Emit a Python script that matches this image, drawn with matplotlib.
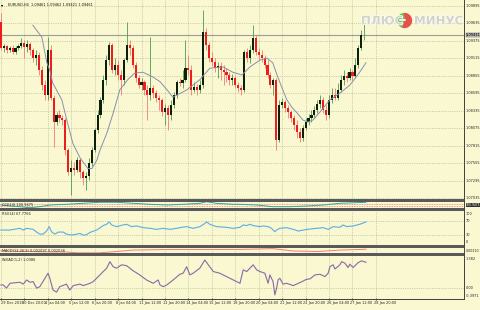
import matplotlib
matplotlib.use("Agg")
import matplotlib.pyplot as plt
import matplotlib.patheffects as pe
from matplotlib.patches import Rectangle, Wedge
import numpy as np

# EURUSD H4 candles (price values)
first_open = 1.0966
closes = [1.0927, 1.0930, 1.0924, 1.0927, 1.0921, 1.0927, 1.0930, 1.0935, 1.0929, 1.0933,
          1.0924, 1.0912, 1.0917, 1.0894, 1.0872, 1.0857, 1.0924, 1.0853, 1.0817, 1.0828,
          1.0823, 1.0820, 1.0776, 1.0743, 1.0749, 1.0746, 1.0761, 1.0743, 1.0734, 1.0737,
          1.0756, 1.0776, 1.0805, 1.0828, 1.0850, 1.0880, 1.0909, 1.0932, 1.0894, 1.0902,
          1.0887, 1.0880, 1.0909, 1.0932, 1.0927, 1.0902, 1.0882, 1.0872, 1.0877, 1.0865,
          1.0857, 1.0868, 1.0860, 1.0853, 1.0850, 1.0832, 1.0838, 1.0828, 1.0842, 1.0857,
          1.0877, 1.0875, 1.0880, 1.0897, 1.0894, 1.0865, 1.0869, 1.0865, 1.0872, 1.0951,
          1.0932, 1.0912, 1.0906, 1.0897, 1.0900, 1.0894, 1.0891, 1.0887, 1.0880, 1.0882,
          1.0872, 1.0868, 1.0865, 1.0921, 1.0912, 1.0924, 1.0942, 1.0921, 1.0917, 1.0912,
          1.0902, 1.0887, 1.0872, 1.0880, 1.0790, 1.0842, 1.0847, 1.0838, 1.0832, 1.0823,
          1.0813, 1.0802, 1.0793, 1.0808, 1.0817, 1.0823, 1.0828, 1.0835, 1.0844, 1.0850,
          1.0835, 1.0828, 1.0850, 1.0857, 1.0853, 1.0865, 1.0880, 1.0885, 1.0882, 1.0891,
          1.0885, 1.0902, 1.0927, 1.0946, 1.09461]
highs = [1.0979, 1.0933, 1.0932, 1.0930, 1.0932, 1.0930, 1.0933, 1.0942, 1.0939, 1.0939,
         1.0936, 1.0927, 1.0924, 1.0921, 1.0900, 1.0880, 1.0943, 1.0932, 1.0857, 1.0832,
         1.0835, 1.0828, 1.0823, 1.0778, 1.0761, 1.0758, 1.0765, 1.0764, 1.0746, 1.0743,
         1.0764, 1.0780, 1.0808, 1.0835, 1.0854, 1.0887, 1.0917, 1.0936, 1.0935, 1.0912,
         1.0909, 1.0894, 1.0912, 1.0966, 1.0939, 1.0932, 1.0906, 1.0887, 1.0882, 1.0880,
         1.0872, 1.0943, 1.0872, 1.0865, 1.0857, 1.0853, 1.0844, 1.0842, 1.0850, 1.0862,
         1.0880, 1.0882, 1.0894, 1.0939, 1.0917, 1.0902, 1.0877, 1.0874, 1.0880, 1.0984,
         1.0957, 1.0936, 1.0921, 1.0912, 1.0906, 1.0906, 1.0902, 1.0897, 1.0891, 1.0888,
         1.0887, 1.0877, 1.0872, 1.0924, 1.0927, 1.0932, 1.0961, 1.0946, 1.0927, 1.0924,
         1.0917, 1.0909, 1.0891, 1.0882, 1.0882, 1.0850, 1.0853, 1.0850, 1.0842, 1.0835,
         1.0828, 1.0820, 1.0808, 1.0813, 1.0823, 1.0829, 1.0835, 1.0841, 1.0850, 1.0857,
         1.0854, 1.0842, 1.0857, 1.0868, 1.0868, 1.0875, 1.0887, 1.0894, 1.0891, 1.0897,
         1.0894, 1.0912, 1.0932, 1.0954, 1.0966]
lows = [1.0924, 1.0921, 1.0920, 1.0921, 1.0918, 1.0918, 1.0924, 1.0927, 1.0912, 1.0921,
        1.0917, 1.0906, 1.0902, 1.0887, 1.0865, 1.0850, 1.0850, 1.0850, 1.0780, 1.0813,
        1.0817, 1.0813, 1.0768, 1.0738, 1.0709, 1.0738, 1.0743, 1.0734, 1.0723, 1.0716,
        1.0731, 1.0752, 1.0773, 1.0801, 1.0823, 1.0845, 1.0872, 1.0902, 1.0890, 1.0887,
        1.0880, 1.0857, 1.0872, 1.0906, 1.0917, 1.0897, 1.0877, 1.0868, 1.0865, 1.0857,
        1.0820, 1.0850, 1.0853, 1.0847, 1.0835, 1.0826, 1.0813, 1.0805, 1.0820, 1.0838,
        1.0853, 1.0871, 1.0868, 1.0877, 1.0887, 1.0857, 1.0862, 1.0857, 1.0860, 1.0868,
        1.0924, 1.0906, 1.0900, 1.0891, 1.0882, 1.0880, 1.0872, 1.0877, 1.0872, 1.0872,
        1.0868, 1.0862, 1.0857, 1.0862, 1.0906, 1.0905, 1.0920, 1.0917, 1.0909, 1.0906,
        1.0897, 1.0882, 1.0868, 1.0857, 1.0776, 1.0787, 1.0838, 1.0832, 1.0823, 1.0817,
        1.0805, 1.0793, 1.0787, 1.0789, 1.0805, 1.0813, 1.0817, 1.0823, 1.0831, 1.0838,
        1.0831, 1.0820, 1.0823, 1.0845, 1.0850, 1.0850, 1.0862, 1.0872, 1.0877, 1.0880,
        1.0880, 1.0882, 1.0897, 1.0924, 1.0939]

# moving average (bar position, price)
ma_bar = [10.9, 14.0, 15.7, 16.7, 17.7, 20.8, 22.5, 24.6, 27.0, 29.7, 31.1, 32.8, 33.8, 36.2,
          38.3, 40.6, 43.3, 45.7, 48.5, 51.9, 54.3, 56.7, 58.7, 63.5, 67.9, 71.3, 75.8, 79.2,
          82.3, 85.0, 88.4, 90.8, 92.8, 94.5, 96.2, 97.6, 99.3, 101.0, 103.1, 104.8, 106.5,
          108.9, 112.3, 115.7, 119.1, 121.8, 124.6]
ma_val = [1.0961, 1.0943, 1.0905, 1.0894, 1.0875, 1.0850, 1.0820, 1.0785, 1.0764, 1.0748,
          1.0748, 1.0761, 1.0775, 1.0801, 1.0830, 1.0865, 1.0880, 1.0890, 1.0891, 1.0884,
          1.0877, 1.0865, 1.0854, 1.0865, 1.0880, 1.0897, 1.0899, 1.0891, 1.0887, 1.0899,
          1.0909, 1.0912, 1.0905, 1.0884, 1.0865, 1.0850, 1.0839, 1.0831, 1.0820, 1.0817,
          1.0820, 1.0832, 1.0850, 1.0860, 1.0872, 1.0887, 1.0905]

# small oscillator in first sub-window
cci_bar = [0, 3.1, 6.5, 9.9, 13.3, 16.7, 22.4, 28.1, 33.8, 39.5, 45.2, 50.9, 56.6, 62.2, 67.9,
           70.2, 73.6, 79.3, 81.6, 87.3, 92.9, 98.6, 104.3, 110.0, 115.7, 124.6]
cci_val = [0, -100, -170, -270, -170, 0, 70, 170, 270, 270, 170, 70, 0, 70, 170,
           330, 170, 70, 70, 0, -170, -170, -100, 0, 170, 270]

# RSI(14)
rsi_bar = [0, 3, 6.5, 7.6, 8.8, 11, 12.2, 13.3, 14.4, 15.6, 16.5, 17.3, 18.4, 19.6, 21.3, 22.4,
           23.5, 24.7, 27, 28.1, 29.2, 30.4, 32.7, 34.9, 36.1, 37, 37.8, 39.5, 41.7, 42.9, 44.6,
           46.3, 48.6, 50.9, 53.1, 55.4, 57.7, 60, 61.7, 63.4, 65.6, 67.9, 69.6, 70.2, 71.3,
           73.6, 77, 79.3, 81.6, 82.7, 83.9, 85, 86.1, 88.4, 89.5, 91.2, 92.4, 92.9, 93.5, 94.1,
           95.2, 97.5, 99.8, 101.5, 103.2, 105.5, 107.7, 110, 111.7, 113.4, 115.7, 116.8, 118,
           120.2, 122.5, 124.6]
rsi_val = [44, 44, 49, 44, 49, 46, 38, 32, 32, 41, 54, 39, 32, 38, 38, 32,
           30, 30, 34, 29, 30, 37, 44, 57, 61, 68, 59, 54, 59, 61, 54,
           56, 51, 49, 46, 49, 46, 49, 52, 54, 49, 54, 63, 68, 61,
           54, 52, 49, 52, 59, 57, 61, 57, 54, 56, 54, 49, 44, 39, 44,
           49, 51, 46, 41, 44, 47, 49, 51, 46, 54, 52, 59, 54,
           56, 61, 67.78]

# MACD main line
macd_bar = [0, 14.3, 22.5, 26, 33.8, 39.6, 45, 56.7, 81.6, 92.8, 99.7, 107.8, 115.7, 124.6]
macd_val = [-0.0005, -0.0015, -0.0018, -0.0028, -0.0028, -0.0012, 0.0005, 0.0012, 0.0013,
            0.0022, -0.0005, -0.0012, 0.0005, 0.0015]

# bottom oscillator
osc_bar = [0, 0.8, 1.9, 3.1, 6.5, 7.6, 8.8, 9.9, 11, 12.2, 13.3, 16.1, 16.7, 17.8, 19, 20.1,
           22.4, 23.5, 24.7, 27, 28.1, 30.4, 31.5, 33.8, 36.1, 37.2, 38.3, 39.5, 41.2, 42.9,
           44, 45.2, 47.4, 49.7, 52, 53.7, 54.3, 55.4, 56.6, 58.8, 61.1, 62.2, 63.4, 64.5,
           65.6, 67.9, 69.6, 70.8, 72.5, 74.7, 77, 79.3, 81.6, 82.7, 83.9, 85, 86.1, 87.3,
           88.4, 90.1, 91.2, 91.8, 92.9, 93.5, 94.1, 94.6, 95.2, 96.3, 97.5, 99.8, 100.9,
           103.2, 104.3, 105.5, 107.2, 108.9, 110.6, 111.7, 112.3, 113.4, 114, 115.7, 116.3,
           117.4, 118.5, 119.1, 120.2, 121.9, 123.1, 124.6]
osc_val = [0.14, 0.14, -0.01, 0.22, 0.27, 0.18, 0.38, 0.27, 0.30, -0.01, 0.06, 0.70, 0.46,
           -0.10, -0.20, 0.06, 0.18, -0.10, 0.11, 0.18, 0.11, 0.22, 0.30, 0.62, 0.94, 1.25,
           1.01, 0.94, 1.10, 1.06, 0.94, 0.81, 0.62, 0.38, 0.22, 0.38, 0.14, 0.06, 0.14, 0.38,
           0.65, 0.70, 1.01, 0.62, 0.70, 0.94, 1.33, 1.10, 0.78, 0.70, 0.54, 0.38, 0.22, 0.86,
           0.78, 0.94, 1.10, 0.86, 0.78, 0.70, 0.22, 0.62, 0.30, -0.33, -0.01, 0.38, 0.46,
           0.18, 0.22, 0.11, 0.18, 0.33, 0.41, 0.43, 0.62, 0.65, 0.54, 0.70, 1.01, 1.10, 0.90,
           1.10, 1.25, 1.18, 0.97, 1.13, 0.97, 1.20, 1.29, 1.22]

price_ticks = [1.09895, 1.09635, 1.09375, 1.09115, 1.08855, 1.08595, 1.08335, 1.08075,
               1.07815, 1.07555, 1.07295, 1.07035]
time_labels = ["29 Dec 2015", "30 Dec 20:00", "4 Jan 04:00", "5 Jan 12:00", "6 Jan 20:00",
               "8 Jan 04:00", "11 Jan 12:00", "12 Jan 20:00", "14 Jan 04:00", "15 Jan 12:00",
               "18 Jan 20:00", "20 Jan 04:00", "21 Jan 12:00", "22 Jan 20:00", "26 Jan 04:00",
               "27 Jan 12:00", "28 Jan 20:00"]
last_price = 1.09461

BG = "#f9f8d0"
GRID = "#a9a994"
SEP = "#5a5a5a"
NARROW = ["Liberation Sans Narrow", "DejaVu Sans"]
FS = 2.5
W, H = 480, 310
PLOT_R = 464
BAR_PX = 2.93

fig = plt.figure(figsize=(4.8, 3.1), dpi=100, facecolor=BG)


def px_axes(y0, y1):
    ax = fig.add_axes([0, 1 - y1 / H, PLOT_R / W, (y1 - y0) / H])
    ax.set_facecolor(BG)
    for s in ax.spines.values():
        s.set_visible(False)
    ax.set_xlim(-0.3, -0.3 + PLOT_R / BAR_PX)
    ax.set_xticks(np.arange(0, 17) * 8)
    ax.tick_params(length=0, labelbottom=False, labelleft=False)
    ax.grid(True, color=GRID, ls=(0, (1, 1.6)), lw=0.5)
    return ax


def right_label(ax, y, txt, size=FS, **kw):
    kw.setdefault("color", "#222222")
    ax.text(1.004, y, txt, transform=ax.get_yaxis_transform(), fontsize=size,
            family=NARROW, va="center", ha="left", clip_on=False, **kw)


def left_label(ax, y, txt):
    ax.text(0.005, y, txt, transform=ax.transAxes, fontsize=FS, family=NARROW,
            va="center", color="#222222")


# --- main price window ---
ax = px_axes(0, 199)
ax.set_ylim(1.07027, 1.09984)
ax.set_yticks(price_ticks)
o = np.array([first_open] + closes[:-1])
c = np.array(closes)
hi = np.array(highs)
lo = np.array(lows)
x = np.arange(len(c))
bull = c >= o
wick_col = np.where(bull, "#4f9a4f", "#f07a7a")
body_col = np.where(bull, "#0b1f0b", "#ee1c1c")
ax.vlines(x, lo, hi, colors=wick_col, lw=0.6, zorder=3)
body_h = np.maximum(np.abs(c - o), 0.00006)
ax.bar(x, body_h, bottom=np.minimum(o, c), width=0.72, color=body_col, lw=0, zorder=4)
ax.plot(ma_bar, ma_val, color="#8a8fb0", lw=0.7, zorder=5)
ax.axhline(last_price, color="#9c9c9c", lw=0.8, zorder=2)
for p in price_ticks:
    right_label(ax, p, f"{p:.5f}")
right_label(ax, last_price, f"{last_price:.5f}", size=2.3, fontweight="bold",
            bbox=dict(boxstyle="square,pad=0.05", fc="#d0d0d0", ec="#404040", lw=0.3),
            zorder=6)
ax.text(0.003, 0.985, "\u25be", transform=ax.transAxes, fontsize=3.2, va="top")
ax.text(0.017, 0.985, "EURUSD,H4  1.09461 1.09462 1.09421 1.09461",
        transform=ax.transAxes, fontsize=FS, family=NARROW, va="top", color="#111111")

# watermark
wm = dict(fontsize=8.5, fontweight="bold", color="#d3d3cc", va="center",
          family=["Liberation Sans Narrow", "DejaVu Sans"],
          path_effects=[pe.withStroke(linewidth=1.0, foreground="white")], zorder=7)
fig.text(361 / W, 1 - 21 / H, "ПЛЮС", ha="left", **wm)
fig.text(414 / W, 1 - 21 / H, "МИНУС", ha="left", **wm)
lax = fig.add_axes([396 / W, 1 - 29 / H, 17 / W, 17 / H])
lax.set_xlim(-1, 1)
lax.set_ylim(-1, 1)
lax.set_aspect("equal")
lax.axis("off")
lax.add_patch(Wedge((0, 0), 0.9, 95, 250, fc="#6cbf4a", ec="none"))
lax.add_patch(Wedge((0, 0), 0.9, 250, 95, fc="#e5504a", ec="none"))
lax.plot([-0.5, 0.05], [0.05, 0.05], color="white", lw=1.2)

# --- sub window 1 (CCI) ---
a1 = px_axes(202, 208)
a1.set_ylim(-300, 300)
a1.set_yticks([])
a1.axhline(100, color="#e88080", ls=(0, (1, 1)), lw=0.6)
a1.axhline(-100, color="#e88080", ls=(0, (1, 1)), lw=0.6)
a1.plot(cci_bar, cci_val, color="#2aa89a", lw=0.7)
left_label(a1, 0.5, "CCI(14) 100.9475")
right_label(a1, 0, "100.9475", size=2.2, color="white",
            bbox=dict(boxstyle="square,pad=0.05", fc="#303030", ec="none"))

# --- sub window 2 (RSI) ---
a2 = px_axes(211, 245)
a2.set_ylim(0, 100)
a2.set_yticks([30, 70])
a2.plot(rsi_bar, rsi_val, color="#5aaee6", lw=0.8)
left_label(a2, 0.9, "RSI(14) 67.7766")
for v, t in [(90, "100"), (70, "70"), (30, "30"), (10, "0")]:
    right_label(a2, v, t)

# --- sub window 3 (MACD) ---
a3 = px_axes(248, 253)
a3.set_ylim(-0.003, 0.003)
a3.set_yticks([])
a3.plot(macd_bar, macd_val, color="#f08070", lw=0.7)
left_label(a3, 0.5, "MACD(12,26,9) 0.002097 0.002038")
right_label(a3, 0, "0.00210", size=2.3)

# --- sub window 4 ---
a4 = px_axes(256, 298)
a4.set_ylim(-0.48, 1.52)
a4.set_yticks([0])
a4.plot(osc_bar, osc_val, color="#8a68a8", lw=0.8)
left_label(a4, 0.9, "WillAD(1,2) 1.0386")
right_label(a4, 1.382, "1.382")
right_label(a4, 0, "0.00")
right_label(a4, -0.3971, "-0.3971")
a4.tick_params(axis="x", length=1.5, color="#404040", direction="out")
for k, t in enumerate(time_labels):
    a4.text(max(k * 8 - 0.8, 0.1), -0.06, t, transform=a4.get_xaxis_transform(),
            fontsize=FS, family=NARROW, va="top", ha="left", color="#222222",
            clip_on=False)

# window separators and frame
for y0, y1 in [(199, 202), (208, 211), (245, 248), (253, 256)]:
    fig.add_artist(Rectangle((0, 1 - y1 / H), PLOT_R / W, (y1 - y0) / H,
                             transform=fig.transFigure, fc=SEP, ec="none"))
fig.add_artist(plt.Line2D([0, PLOT_R / W], [1 - 298.5 / H] * 2, transform=fig.transFigure,
                          color="#404040", lw=0.7))
fig.add_artist(plt.Line2D([PLOT_R / W] * 2, [1 - 298.5 / H, 1], transform=fig.transFigure,
                          color="#404040", lw=0.7))

fig.savefig("out.png", dpi=100, facecolor=BG)
